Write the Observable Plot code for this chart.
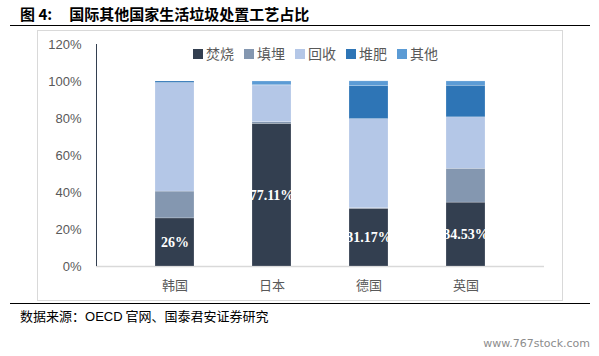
<!DOCTYPE html>
<html><head><meta charset="utf-8">
<script src="https://cdn.jsdelivr.net/npm/d3@7"></script>
<script src="https://cdn.jsdelivr.net/npm/@observablehq/plot@0.6"></script>
<style>
body{margin:0;background:#fff;font-family:"Noto Sans CJK SC","Liberation Sans",sans-serif;}
#wrap{position:relative;width:599px;height:356px;overflow:hidden;}
.abs{position:absolute;white-space:nowrap;}
</style></head><body>
<div id="wrap">
  <div class="abs" style="left:20px;top:3px;font-size:15px;font-weight:bold;color:#000;">图 4:<span style="display:inline-block;width:17px;"></span>国际其他国家生活垃圾处置工艺占比</div>
  <div class="abs" style="left:10px;top:25px;width:580px;height:1px;background:#000;"></div>
  <div class="abs" style="left:37px;top:30px;width:524px;height:269px;border:1px solid #D9D9D9;"></div>
  <div id="chart" class="abs" style="left:37px;top:30px;"></div>
  <div id="legend" class="abs" style="left:193px;top:43px;font-size:14px;color:#595959;"></div>
  <div class="abs" style="left:10px;top:303px;width:580px;height:1px;background:#000;"></div>
  <div class="abs" style="left:20px;top:306px;font-size:13px;color:#000;">数据来源：<span style="font-family:'Liberation Sans',sans-serif;">OECD</span> 官网、国泰君安证券研究</div>
  <div class="abs" style="right:9px;top:337px;font-size:11px;color:#8c8c8c;font-family:'DejaVu Sans',sans-serif;">www.767stock.com</div>
</div>
<script>
const countries = ["韩国", "日本", "德国", "英国"];
const series = ["焚烧", "填埋", "回收", "堆肥", "其他"];
const colors = ["#333F50", "#8497B0", "#B4C7E7", "#2E75B6", "#5B9BD5"];
const incineration = [26, 77.11, 31.17, 34.53];
const landfill = [14.5, 0.9, 0.3, 18.3];
const recycling = [58.7, 19.8, 48.2, 27.8];
const composting = [0.8, 0.2, 17.8, 17.1];
const other = [0, 2.0, 2.6, 2.3];
const labels = ["26%", "77.11%", "31.17%", "34.53%"];
const yTicks = [0, 20, 40, 60, 80, 100, 120];

const cols = [incineration, landfill, recycling, composting, other];
const data = [];
series.forEach((s, i) => countries.forEach((c, j) => data.push({country: c, series: s, value: cols[i][j]})));
const labelData = countries.map((c, j) => ({country: c, value: incineration[j], label: labels[j]}));

const chart = Plot.plot({
  width: 525, height: 270,
  marginLeft: 59, marginRight: 18, marginTop: 14, marginBottom: 34,
  style: {fontFamily: "'Liberation Sans', 'Noto Sans CJK SC', sans-serif", fontSize: "13px", color: "#595959", background: "transparent"},
  x: {domain: countries, padding: 0.6, label: null, tickSize: 0, tickPadding: 14},
  y: {domain: [0, 120], ticks: yTicks, tickFormat: d => d + "%", label: null, tickSize: 0, tickPadding: 15},
  color: {domain: series, range: colors},
  marks: [
    Plot.ruleY([0], {stroke: "#D9D9D9", strokeWidth: 1.5}),
    Plot.barY(data, {x: "country", y: "value", fill: "series", order: series, stroke: "#ffffff", strokeOpacity: 0.4, strokeWidth: 0.5}),
    Plot.text(labelData, {x: "country", y: d => d.value / 2, text: "label", fill: "white", fontWeight: "bold", fontSize: 14, fontFamily: "'Liberation Serif', serif"})
  ]
});
document.getElementById("chart").appendChild(chart);
const svg = d3.select(chart);
svg.append("line").attr("x1", 59.5).attr("x2", 59.5).attr("y1", 14).attr("y2", 236).attr("stroke", "#333F50").attr("stroke-width", 1);

const leg = document.getElementById("legend");
series.forEach((s, i) => {
  const item = document.createElement("span");
  item.style.marginRight = "10px";
  item.innerHTML = `<span style="display:inline-block;width:10px;height:10px;background:${colors[i]};margin-right:3px;"></span>${s}`;
  leg.appendChild(item);
});
</script>
</body></html>
